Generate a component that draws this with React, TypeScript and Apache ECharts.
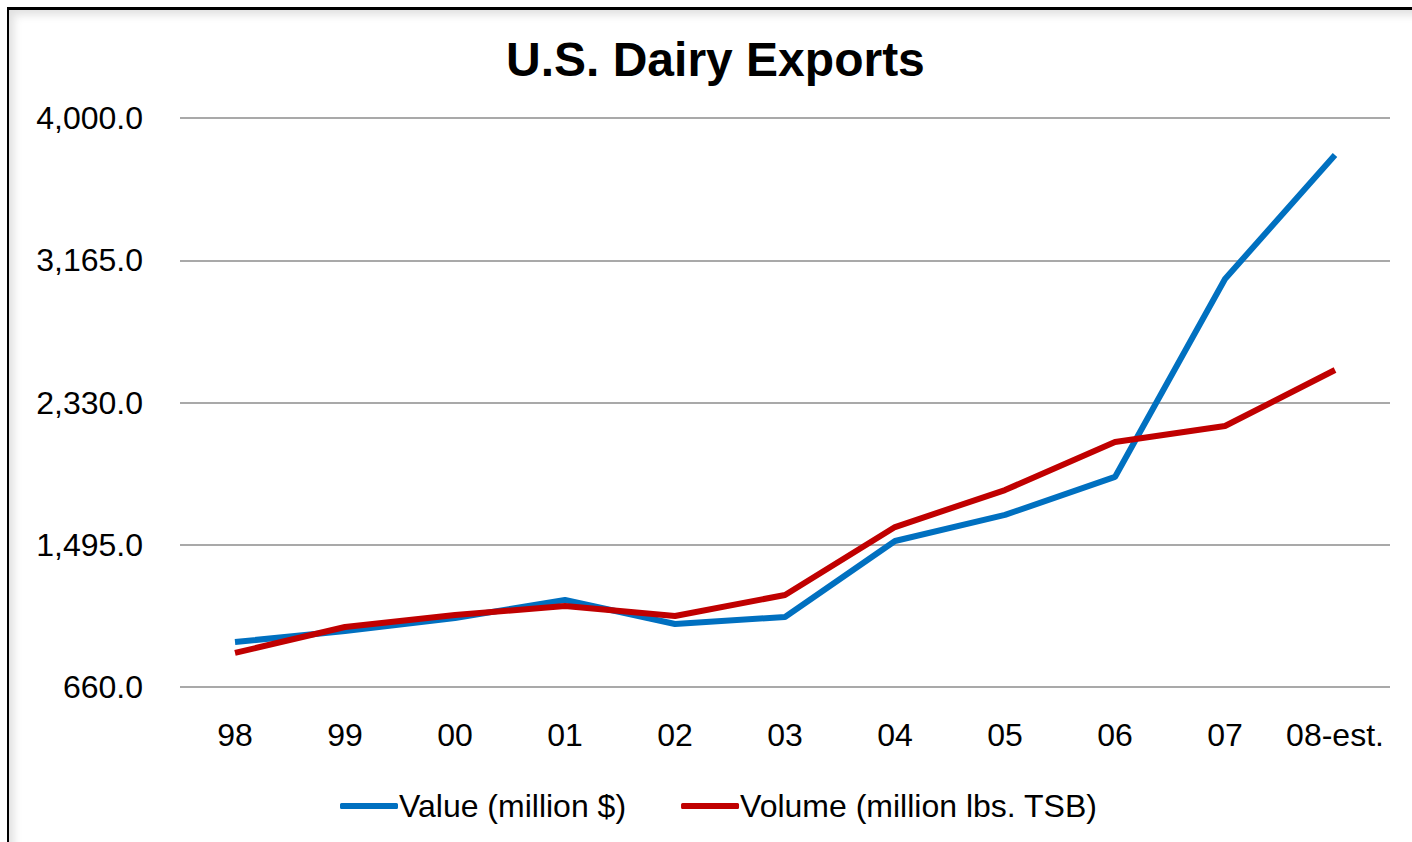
import React, { useEffect, useRef } from "react";
import * as echarts from "echarts";

const categories = ["98", "99", "00", "01", "02", "03", "04", "05", "06", "07", "08-est."];
const valueSeries = [924, 989, 1065, 1171, 1030, 1071, 1517, 1670, 1893, 3055, 3783];
const volumeSeries = [860, 1012, 1083, 1135, 1077, 1200, 1599, 1816, 2098, 2192, 2521];
const yMin = 660;
const yMax = 4000;
const yInterval = 835;

export default function App() {
  const ref = useRef<HTMLDivElement>(null);
  useEffect(() => {
    if (!ref.current) return;
    const chart = echarts.init(ref.current, null, { renderer: "svg" });
    const font = "Liberation Sans, Arial, sans-serif";
    chart.setOption({
      animation: false,
      backgroundColor: "transparent",
      title: {
        text: "U.S. Dairy Exports",
        left: 506,
        top: 35,
        padding: 0,
        textStyle: { fontFamily: font, fontSize: 48, fontWeight: "bold", color: "#000" },
      },
      legend: {
        bottom: 20,
        left: 340,
        padding: 0,
        itemWidth: 58,
        itemHeight: 6,
        itemGap: 55,
        icon: "roundRect",
        textStyle: { fontFamily: font, fontSize: 32, color: "#000", padding: [0, 0, 0, -4] },
        data: ["Value (million $)", "Volume (million lbs. TSB)"],
      },
      grid: { left: 180, right: 22, top: 118, bottom: 155 },
      xAxis: {
        type: "category",
        data: categories,
        boundaryGap: true,
        axisLine: { show: false },
        axisTick: { show: false },
        axisLabel: { fontFamily: font, fontSize: 32, color: "#000", margin: 32, interval: 0 },
      },
      yAxis: {
        type: "value",
        min: yMin,
        max: yMax,
        interval: yInterval,
        axisLine: { show: false },
        axisTick: { show: false },
        splitLine: { lineStyle: { color: "#8c8c8c", width: 1.5 } },
        axisLabel: {
          fontFamily: font,
          fontSize: 32,
          color: "#000",
          margin: 37,
          formatter: (v: number) =>
            v.toLocaleString("en-US", { minimumFractionDigits: 1, maximumFractionDigits: 1 }),
        },
      },
      series: [
        {
          name: "Value (million $)",
          type: "line",
          data: valueSeries,
          symbol: "none",
          lineStyle: { color: "#0070C0", width: 6 },
          itemStyle: { color: "#0070C0" },
        },
        {
          name: "Volume (million lbs. TSB)",
          type: "line",
          data: volumeSeries,
          symbol: "none",
          lineStyle: { color: "#C00000", width: 6 },
          itemStyle: { color: "#C00000" },
        },
      ],
    });
    return () => chart.dispose();
  }, []);
  return (
    <div style={{ position: "fixed", left: 0, top: 0, width: 1412, height: 842, background: "#fff", overflow: "hidden" }}>
      <div
        style={{
          position: "absolute",
          left: 7,
          top: 7,
          width: 1500,
          height: 1000,
          borderTop: "3px solid #000",
          borderLeft: "2px solid #000",
          boxShadow: "inset 5px 5px 9px rgba(0,0,0,0.12)",
        }}
      />
      <div ref={ref} style={{ position: "absolute", left: 0, top: 0, width: 1412, height: 842 }} />
    </div>
  );
}
